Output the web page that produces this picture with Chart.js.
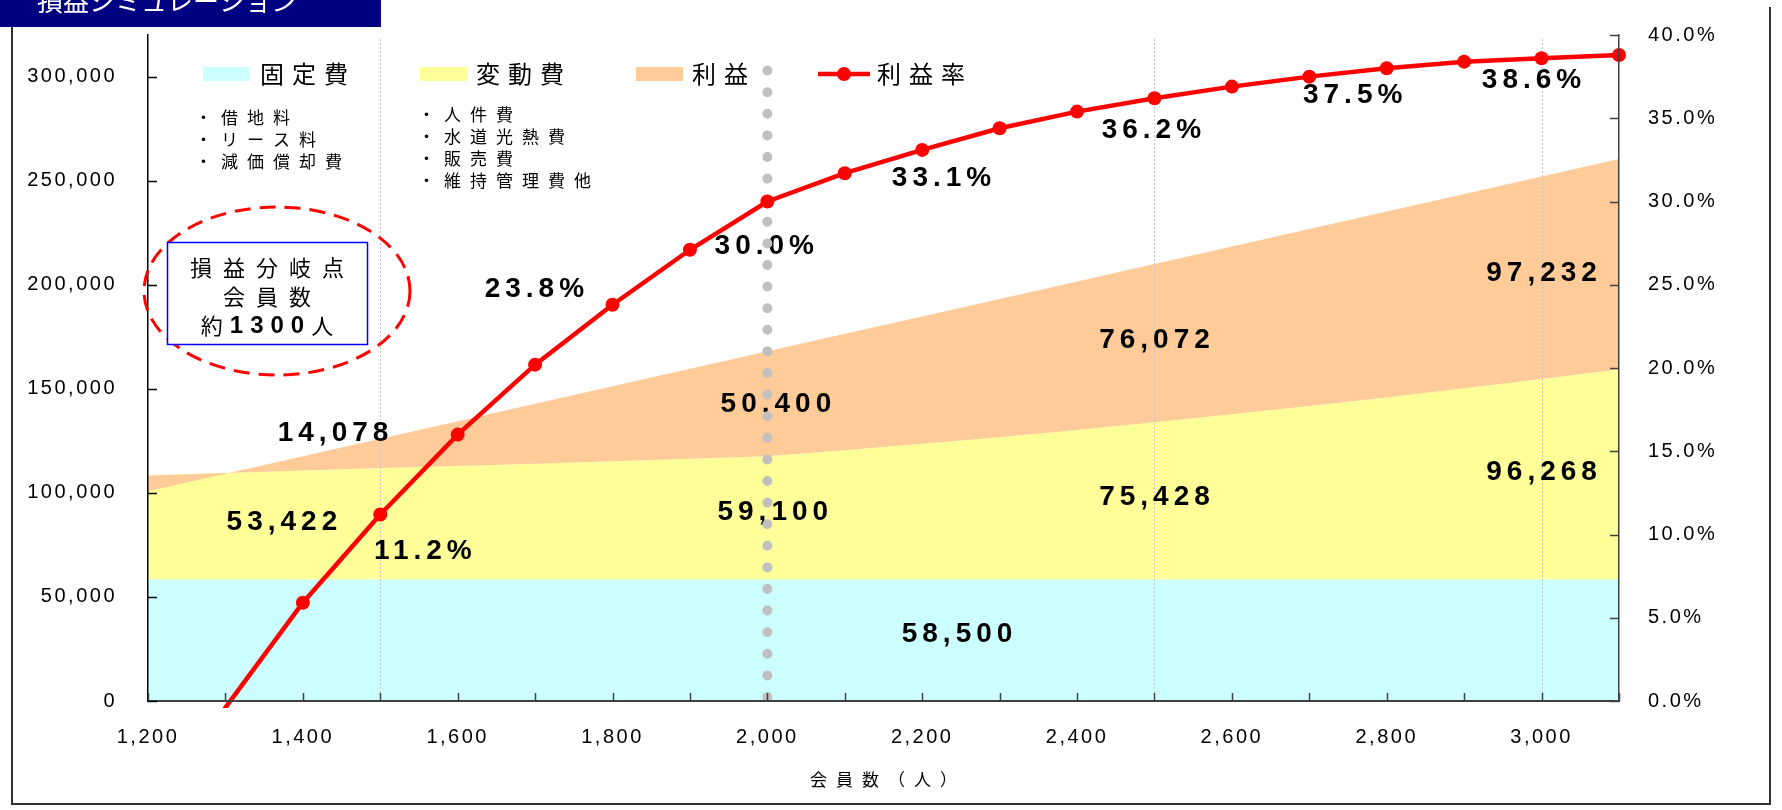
<!DOCTYPE html>
<html lang="ja">
<head>
<meta charset="utf-8">
<title>損益シミュレーション</title>
<script src="https://cdn.jsdelivr.net/npm/chart.js@4.4.1/dist/chart.umd.min.js"></script>
<style>
  html, body { margin: 0; padding: 0; background: #fff; }
  #wrap { position: relative; width: 1782px; height: 810px; }
</style>
</head>
<body>
<div id="wrap"><canvas id="chart" width="1782" height="810"></canvas></div>
<script>
// ---- data ----
const members = [1200, 1300, 1400, 1500, 1600, 1700, 1800, 1900, 2000, 2100, 2200, 2300, 2400, 2500, 2600, 2700, 2800, 2900, 3000, 3100];
const fixedCost = [58500, 58500, 58500, 58500, 58500, 58500, 58500, 58500, 58500, 58500, 58500, 58500, 58500, 58500, 58500, 58500, 58500, 58500, 58500, 58500];
const variableCost = [49800, 51000, 52200, 53422, 54400, 55500, 56710, 57850, 59100, 61980, 65130, 68240, 71730, 75428, 79310, 83250, 87320, 91800, 96268, 100800];
const profit = [-7500, -300, 6900, 14078, 21500, 28800, 35990, 43250, 50400, 55920, 61170, 66460, 71370, 76072, 80590, 85050, 89380, 93300, 97232, 101100];
const profitRate = [-7.4, -0.4, 5.9, 11.2, 16.0, 20.2, 23.8, 27.1, 30.0, 31.7, 33.1, 34.4, 35.4, 36.2, 36.9, 37.5, 38.0, 38.4, 38.6, 38.8];

// tick labels
const xTicks = [1200, 1400, 1600, 1800, 2000, 2200, 2400, 2600, 2800, 3000];
const amountTicks = [0, 50000, 100000, 150000, 200000, 250000, 300000];
const rateTicks = [0, 5, 10, 15, 20, 25, 30, 35, 40];

const seriesNames = ['固定費', '変動費', '利益', '利益率'];
const fixedItems = ['借地料', 'リース料', '減価償却費'];
const variableItems = ['人件費', '水道光熱費', '販売費', '維持管理費他'];
const breakEvenText = ['損益分岐点', '会員数', '約', '1300', '人'];
const xTitle = '会員数（人）';
const chartTitle = '損益シミュレーション';

// which columns get value labels
const amountLabelMembers = [1500, 2000, 2500, 3000];
const rateLabelMembers = [1500, 1800, 2000, 2200, 2500, 2700, 3000];
const fixedLabelMember = 2000;
const gridMembers = [1500, 2500, 3000];
const markerLineMember = 2000;

// ---- layout (label anchors in chart units: [members, value]) ----
const profitLabelPos = [[1439, 128400], [2011, 142650], [2500, 173450], [3000, 205700]];
const variableLabelPos = [[1373, 85800], [2007, 90500], [2500, 98100], [3000, 109950]];
const fixedLabelPos = [2245, 32200];
const rateLabelPos = [[1555, 9.0], [1699, 24.7], [1996, 27.3], [2225, 31.4], [2496, 34.3], [2756, 36.4], [2987, 37.3]];

const NUM_FONT = '"Liberation Sans", Arial, sans-serif';
const JP_FONT = '"Noto Sans CJK JP", "Noto Sans", sans-serif';
const COLORS = { fixed: '#CCFFFF', variable: '#FFFF99', profit: '#FFCC99', rate: '#FF0000' };

// cumulative lines for the area fills
const costTotal = fixedCost.map((f, i) => f + variableCost[i]);
const sales = costTotal.map((c, i) => c + profit[i]);
const toPoints = arr => arr.map((v, i) => ({ x: members[i], y: v }));
const fmt = v => v.toLocaleString('en-US');
const fixTicks = list => scale => { scale.ticks = list.map(v => ({ value: v })); };

function spacedText(ctx, text, x, y, spacing) {
    // centre text drawn with letter spacing (trailing gap compensated)
    ctx.letterSpacing = spacing + 'px';
    ctx.fillText(text, x + spacing / 2, y);
}

const overlayPlugin = {
    id: 'overlay',
    beforeDraw(chart) {
        chart.ctx.letterSpacing = '2.5px';
    },
    beforeDatasetDraw(chart, args) {
        if (args.index !== 3) return;
        const { ctx, chartArea, scales } = chart;
        const px = m => scales.x.getPixelForValue(m);
        ctx.save();

        // thin dotted gridlines
        ctx.strokeStyle = '#c4c4c4';
        ctx.lineWidth = 1;
        ctx.setLineDash([2, 2]);
        gridMembers.forEach(m => {
            const x = Math.round(px(m)) + 0.5;
            ctx.beginPath();
            ctx.moveTo(x, chartArea.top + 4);
            ctx.lineTo(x, chartArea.bottom);
            ctx.stroke();
        });
        ctx.setLineDash([]);

        // value labels
        ctx.fillStyle = '#000';
        ctx.font = 'bold 28px ' + NUM_FONT;
        ctx.textAlign = 'center';
        ctx.textBaseline = 'middle';
        amountLabelMembers.forEach((m, k) => {
            const i = members.indexOf(m);
            const pp = profitLabelPos[k], vp = variableLabelPos[k];
            spacedText(ctx, fmt(profit[i]), px(pp[0]), scales.y.getPixelForValue(pp[1]), 5);
            spacedText(ctx, fmt(variableCost[i]), px(vp[0]), scales.y.getPixelForValue(vp[1]), 5);
        });
        const fi = members.indexOf(fixedLabelMember);
        spacedText(ctx, fmt(fixedCost[fi]), px(fixedLabelPos[0]), scales.y.getPixelForValue(fixedLabelPos[1]), 5);
        rateLabelMembers.forEach((m, k) => {
            const i = members.indexOf(m);
            const rp = rateLabelPos[k];
            spacedText(ctx, profitRate[i].toFixed(1) + '%', px(rp[0]), scales.yr.getPixelForValue(rp[1]), 5);
        });

        // big grey dotted line at 2,000
        const bx = px(markerLineMember);
        ctx.strokeStyle = '#c0c0c0';
        ctx.lineWidth = 10;
        ctx.lineCap = 'round';
        ctx.setLineDash([0, 21.6]);
        ctx.beginPath();
        ctx.moveTo(bx, chartArea.bottom - 4);
        ctx.lineTo(bx, chartArea.top + 20);
        ctx.stroke();
        ctx.restore();
    },
    afterDraw(chart) {
        const { ctx, chartArea, scales } = chart;
        const { left, right, top, bottom } = chartArea;
        ctx.save();
        ctx.setLineDash([]);

        // inward tick marks
        ctx.strokeStyle = '#000';
        ctx.lineWidth = 1.5;
        ctx.beginPath();
        amountTicks.forEach(v => {
            const y = Math.round(scales.y.getPixelForValue(v)) + 0.5;
            ctx.moveTo(left, y); ctx.lineTo(left + 9, y);
        });
        ctx.stroke();
        ctx.strokeStyle = '#404040';
        ctx.beginPath();
        rateTicks.forEach(v => {
            const y = Math.round(scales.yr.getPixelForValue(v)) + 0.5;
            ctx.moveTo(right, y); ctx.lineTo(right - 9, y);
        });
        members.forEach(m => {
            const x = Math.round(scales.x.getPixelForValue(m)) + 0.5;
            ctx.moveTo(x, bottom); ctx.lineTo(x, bottom - 8);
        });
        ctx.stroke();

        // legend
        ctx.textAlign = 'left';
        ctx.textBaseline = 'middle';
        ctx.font = '24px ' + JP_FONT;
        ctx.letterSpacing = '8px';
        const swatches = [COLORS.fixed, COLORS.variable, COLORS.profit];
        const swatchX = [203, 420, 636];
        const textX = [260, 476, 692, 877];
        swatches.forEach((c, i) => {
            ctx.fillStyle = c;
            ctx.fillRect(swatchX[i], 67, 47, 14);
        });
        ctx.strokeStyle = COLORS.rate;
        ctx.lineWidth = 4.5;
        ctx.beginPath(); ctx.moveTo(818, 74); ctx.lineTo(870, 74); ctx.stroke();
        ctx.fillStyle = COLORS.rate;
        ctx.beginPath(); ctx.arc(844, 74, 7, 0, Math.PI * 2); ctx.fill();
        ctx.fillStyle = '#000';
        seriesNames.forEach((n, i) => ctx.fillText(n, textX[i], 74));

        // cost item lists
        ctx.font = '17px ' + JP_FONT;
        ctx.letterSpacing = '9px';
        fixedItems.forEach((t, i) => ctx.fillText('・' + t, 195, 118 + i * 22));
        variableItems.forEach((t, i) => ctx.fillText('・' + t, 418, 115 + i * 21.7));

        // break-even annotation
        ctx.strokeStyle = COLORS.rate;
        ctx.lineWidth = 3;
        ctx.setLineDash([16, 9]);
        ctx.beginPath();
        ctx.ellipse(277, 291, 133, 84, 0, 0, Math.PI * 2);
        ctx.stroke();
        ctx.setLineDash([]);
        ctx.fillStyle = '#fff';
        ctx.fillRect(167, 242, 200, 102);
        ctx.strokeStyle = '#0000FF';
        ctx.lineWidth = 1.5;
        ctx.strokeRect(167.5, 242.5, 200, 102);
        ctx.fillStyle = '#000';
        ctx.textAlign = 'center';
        ctx.font = '22px ' + JP_FONT;
        spacedText(ctx, breakEvenText[0], 267, 268, 11);
        spacedText(ctx, breakEvenText[1], 267, 297, 11);
        // third line: 約 + bold number + 人
        const parts = [
            { t: breakEvenText[2], f: '22px ' + JP_FONT },
            { t: breakEvenText[3], f: 'bold 24px ' + NUM_FONT },
            { t: breakEvenText[4], f: '22px ' + JP_FONT }
        ];
        ctx.textAlign = 'left';
        ctx.letterSpacing = '7px';
        let total = 0;
        parts.forEach(p => { ctx.font = p.f; p.w = ctx.measureText(p.t).width; total += p.w; });
        let cx = 267 - (total - 7) / 2;
        parts.forEach(p => { ctx.font = p.f; ctx.fillText(p.t, cx, 326); cx += p.w; });

        // axis title
        ctx.textAlign = 'center';
        ctx.font = '17px ' + JP_FONT;
        spacedText(ctx, xTitle, (left + right) / 2, 780, 9);

        // outer frame
        ctx.strokeStyle = '#333';
        ctx.lineWidth = 2;
        ctx.beginPath();
        ctx.moveTo(12, 27); ctx.lineTo(12, 804); ctx.lineTo(1770, 804); ctx.lineTo(1770, 7);
        ctx.stroke();

        // title bar (cut off at the top edge)
        ctx.fillStyle = '#000080';
        ctx.fillRect(0, 0, 381, 27);
        ctx.fillStyle = '#fff';
        ctx.textAlign = 'left';
        ctx.font = '26px ' + JP_FONT;
        ctx.letterSpacing = '0px';
        ctx.fillText(chartTitle, 37, 1);
        ctx.restore();
    }
};

const tickFont = { family: NUM_FONT, size: 20 };

new Chart(document.getElementById('chart'), {
    type: 'line',
    data: {
        datasets: [
            { label: seriesNames[0], data: toPoints(fixedCost), yAxisID: 'y', backgroundColor: COLORS.fixed, fill: 'origin', borderWidth: 0, pointRadius: 0, order: 3 },
            { label: seriesNames[1], data: toPoints(costTotal), yAxisID: 'y', backgroundColor: COLORS.variable, fill: '-1', borderWidth: 0, pointRadius: 0, order: 2 },
            { label: seriesNames[2], data: toPoints(sales), yAxisID: 'y', backgroundColor: COLORS.profit, fill: '-1', borderWidth: 0, pointRadius: 0, order: 1 },
            {
                label: seriesNames[3], data: toPoints(profitRate), yAxisID: 'yr',
                borderColor: COLORS.rate, backgroundColor: COLORS.rate, borderWidth: 4.5,
                pointRadius: c => (c.raw && c.raw.y < 0 ? 0 : 7), pointHoverRadius: 7, pointBorderWidth: 0,
                fill: false, order: 0,
                clip: { left: 0, top: 10, right: 10, bottom: 7 }
            }
        ]
    },
    options: {
        responsive: false,
        animation: false,
        devicePixelRatio: 1,
        layout: { padding: { top: 27, left: 0, right: 0, bottom: 0 } },
        plugins: { legend: { display: false }, tooltip: { enabled: false } },
        scales: {
            x: {
                type: 'linear', position: 'bottom', min: 1200, max: 3100,
                grid: { display: false },
                border: { display: true, color: '#404040', width: 2, z: 1 },
                ticks: { padding: 16, color: '#000', font: tickFont, maxRotation: 0, autoSkip: false, callback: v => fmt(v) },
                afterBuildTicks: fixTicks(xTicks),
                afterFit: s => { s.height = 109; }
            },
            y: {
                position: 'left', min: 0, max: 320000,
                grid: { display: false },
                border: { display: true, color: '#000', width: 1.5, z: 1 },
                ticks: { padding: 23, color: '#000', font: tickFont, callback: v => fmt(v) },
                afterBuildTicks: fixTicks(amountTicks),
                afterFit: s => { s.width = 148; }
            },
            yr: {
                position: 'right', min: 0, max: 40,
                grid: { display: false },
                border: { display: true, color: '#404040', width: 1.5, z: 1 },
                ticks: { padding: 21, color: '#000', font: tickFont, callback: v => v.toFixed(1) + '%' },
                afterBuildTicks: fixTicks(rateTicks),
                afterFit: s => { s.width = 163; }
            }
        }
    },
    plugins: [overlayPlugin]
});
</script>
</body>
</html>
